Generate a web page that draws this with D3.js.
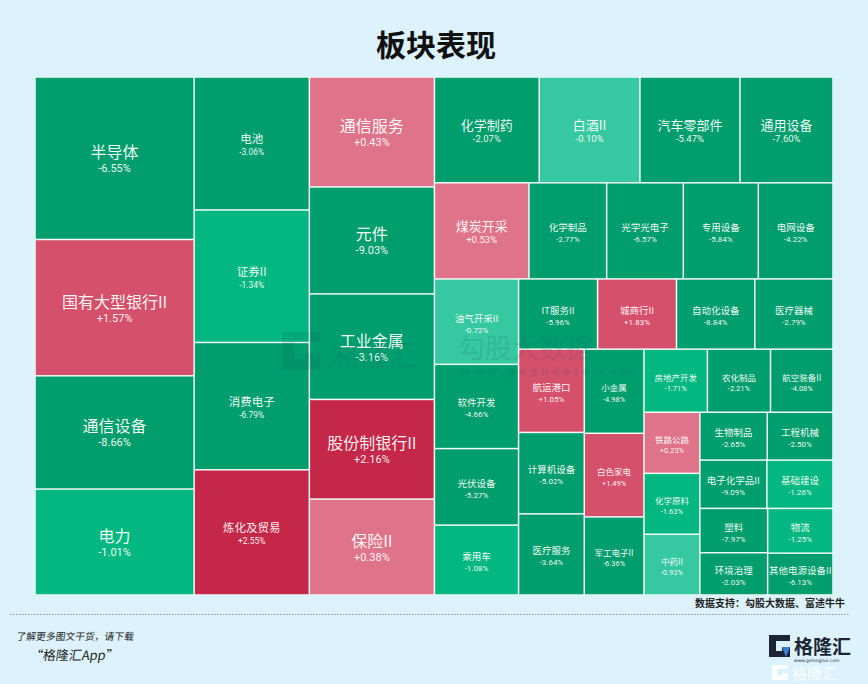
<!DOCTYPE html>
<html>
<head>
<meta charset="utf-8">
<script src="https://cdn.jsdelivr.net/npm/d3@7"></script>
<style>
  body { margin: 0; background: #dcf2fc; }
  svg { display: block; }
</style>
</head>
<body>
<div id="container"></div>
<script>
// sectors in layout order, daily change (%) and weight (block size)
const sectors = [
  '半导体', '国有大型银行II', '通信设备', '电力',
  '电池', '证券II', '消费电子', '炼化及贸易',
  '通信服务', '元件', '工业金属', '股份制银行II', '保险II',
  '化学制药', '白酒II', '汽车零部件', '通用设备',
  '煤炭开采', '化学制品', '光学光电子', '专用设备', '电网设备',
  '油气开采II', '软件开发', '光伏设备', '乘用车',
  'IT服务II', '城商行II', '自动化设备', '医疗器械',
  '航运港口', '计算机设备', '医疗服务',
  '小金属', '白色家电', '军工电子II',
  '房地产开发', '农化制品', '航空装备II',
  '铁路公路', '化学原料', '中药II',
  '生物制品', '工程机械', '电子化学品II', '基础建设',
  '塑料', '环境治理', '物流', '其他电源设备II'
];
const changes = [
  -6.55, 1.57, -8.66, -1.01,
  -3.06, -1.34, -6.79, 2.55,
  0.43, -9.03, -3.16, 2.16, 0.38,
  -2.07, -0.10, -5.47, -7.60,
  0.53, -2.77, -6.57, -5.84, -4.22,
  -0.72, -4.66, -5.27, -1.08,
  -5.96, 1.83, -8.84, -2.79,
  1.05, -5.02, -3.64,
  -4.98, 1.49, -6.36,
  -1.71, -2.21, -4.08,
  0.23, -1.63, -0.93,
  -2.65, -2.50, -9.09, -1.26,
  -7.97, -2.03, -1.25, -6.13
];
const weights = [
  25900, 21730, 18050, 16890,
  15340, 15290, 14690, 14450,
  13770, 13400, 13220, 12480, 12020,
  11110, 10670, 10600, 9860,
  9100, 7480, 7380, 7220, 7190,
  7200, 7100, 6450, 5890,
  5560, 5550, 5510, 5500,
  5480, 5360, 5340,
  5030, 5000, 4670,
  4010, 3990, 3950,
  3420, 3410, 3400,
  3230, 3150, 3240, 3200,
  3010, 2870, 2930, 2740
];
const colorSteps = [-2, -1, 0, 1, 2];
const colorRange = ['#019e6d', '#02b880', '#36c8a0', '#df7389', '#d5506b', '#c42748'];

const w = 868;
const h = 684;
const gap = 1.5;
const box = { x: 35, y: 77, w: 798, h: 518 };

const svg = d3.select('#container')
  .append('svg')
  .attr('width', w)
  .attr('height', h);

svg.append('rect')
  .attr('width', w)
  .attr('height', h)
  .attr('fill', '#dcf2fc');

svg.append('text')
  .attr('x', 436)
  .attr('y', 56)
  .attr('text-anchor', 'middle')
  .attr('font-family', "'Noto Sans CJK SC', sans-serif")
  .attr('font-weight', 700)
  .attr('font-size', 30)
  .attr('fill', '#111')
  .text('板块表现');

const color = d3.scaleThreshold().domain(colorSteps).range(colorRange);

const root = d3.hierarchy({
  children: sectors.map((name, i) => ({ name, change: changes[i], weight: weights[i] }))
}).sum(d => d.weight || 0);

// size shrunk by half the gap so the tiled area is exactly box.w x box.h
d3.treemap()
  .size([box.w - gap, box.h - gap])
  .tile(d3.treemapSquarify.ratio(1))
  .paddingInner(gap)(root);

const g = svg.append('g')
  .attr('transform', `translate(${box.x + gap / 2},${box.y + gap / 2})`);

g.append('rect')
  .attr('x', -gap / 2)
  .attr('y', -gap / 2)
  .attr('width', box.w)
  .attr('height', box.h)
  .attr('fill', '#f4fbf8');

const cells = g.selectAll('g.cell')
  .data(root.leaves())
  .enter()
  .append('g')
  .attr('class', 'cell');

cells.append('rect')
  .attr('x', d => d.x0)
  .attr('y', d => d.y0)
  .attr('width', d => d.x1 - d.x0)
  .attr('height', d => d.y1 - d.y0)
  .attr('fill', d => color(d.data.change));

function nameSize(d) {
  const cw = d.x1 - d.x0;
  const ch = d.y1 - d.y0;
  if (cw >= 120) return 16;
  if (cw >= 90) return ch > 115 ? 11.5 : 13;
  if (cw >= 62) return 9.5;
  return 8.5;
}
const pctSizes = { 16: 11, 13: 9.5, 11.5: 8.5, 9.5: 8, 8.5: 7.5 };

cells.append('text')
  .attr('x', d => (d.x0 + d.x1) / 2)
  .attr('y', d => (d.y0 + d.y1) / 2)
  .attr('text-anchor', 'middle')
  .attr('font-family', "'Noto Sans CJK SC', sans-serif")
  .attr('font-size', d => nameSize(d))
  .attr('fill', '#fff')
  .attr('fill-opacity', 0.95)
  .text(d => d.data.name);

cells.append('text')
  .attr('x', d => (d.x0 + d.x1) / 2)
  .attr('y', d => (d.y0 + d.y1) / 2 + pctSizes[nameSize(d)] + 3)
  .attr('text-anchor', 'middle')
  .attr('font-family', 'Roboto, sans-serif')
  .attr('font-size', d => pctSizes[nameSize(d)])
  .attr('fill', '#fff')
  .attr('fill-opacity', 0.95)
  .text(d => (d.data.change > 0 ? '+' : '') + d.data.change.toFixed(2) + '%');

// logo glyph used for watermark and footer
const logoPath = 'M0,0 H21 V6 H7 V16 H13 V12 H21 V22 H0 Z';

const wm = svg.append('g').attr('fill', '#0f4f5f').attr('fill-opacity', 0.14);
wm.append('path')
  .attr('d', logoPath)
  .attr('transform', 'translate(282,332) scale(1.8,1.72)');
wm.append('text')
  .attr('x', 333)
  .attr('y', 366)
  .attr('font-family', "'Noto Sans CJK SC', sans-serif")
  .attr('font-size', 28)
  .text('格隆汇');
wm.append('text')
  .attr('x', 458)
  .attr('y', 358)
  .attr('font-family', "'Noto Sans CJK SC', sans-serif")
  .attr('font-size', 27)
  .text('勾股大数据');
wm.append('text')
  .attr('x', 461)
  .attr('y', 375)
  .attr('font-family', 'DejaVu Sans, sans-serif')
  .attr('font-weight', 700)
  .attr('font-size', 11)
  .attr('letter-spacing', 3.2)
  .text('www.gogudata.com');

// footer
svg.append('text')
  .attr('x', 845)
  .attr('y', 607)
  .attr('text-anchor', 'end')
  .attr('font-family', "'Noto Sans CJK SC', sans-serif")
  .attr('font-weight', 700)
  .attr('font-size', 10)
  .attr('fill', '#222')
  .text('数据支持：勾股大数据、富途牛牛');

svg.append('line')
  .attr('x1', 10)
  .attr('x2', 849)
  .attr('y1', 614.5)
  .attr('y2', 614.5)
  .attr('stroke', '#777')
  .attr('stroke-width', 0.8)
  .attr('stroke-dasharray', '1.5,1.5');

svg.append('text')
  .attr('x', 17)
  .attr('y', 640)
  .attr('font-family', "'Noto Sans CJK SC', sans-serif")
  .attr('font-size', 9.8)
  .attr('fill', '#222')
  .attr('transform', 'skewX(-8) translate(89,0)')
  .text('了解更多图文干货，请下载');

svg.append('text')
  .attr('x', 30)
  .attr('y', 660)
  .attr('font-family', "'Noto Sans CJK SC', sans-serif")
  .attr('font-size', 13)
  .attr('fill', '#222')
  .attr('transform', 'skewX(-8) translate(92,0)')
  .text('“格隆汇App”');

const logo = svg.append('g').attr('transform', 'translate(769,635)');
logo.append('path').attr('d', logoPath).attr('fill', '#1c2535');
logo.append('path').attr('d', 'M13,12 H21 L17,22 Z').attr('fill', '#3d7fd8');
logo.append('text')
  .attr('x', 25)
  .attr('y', 19)
  .attr('font-family', "'Noto Sans CJK SC', sans-serif")
  .attr('font-weight', 700)
  .attr('font-size', 19)
  .attr('fill', '#1c2535')
  .text('格隆汇');
logo.append('text')
  .attr('x', 25)
  .attr('y', 26.5)
  .attr('font-family', 'DejaVu Sans, sans-serif')
  .attr('font-size', 4.5)
  .attr('fill', '#333')
  .text('www.gelonghui.com');

const logo2 = svg.append('g').attr('transform', 'translate(772,665)').attr('fill', '#fff').attr('fill-opacity', 0.9);
logo2.append('path').attr('d', logoPath).attr('transform', 'scale(0.75,0.68)');
logo2.append('text')
  .attr('x', 20)
  .attr('y', 14)
  .attr('font-family', "'Noto Sans CJK SC', sans-serif")
  .attr('font-size', 15)
  .text('格隆汇');
</script>
</body>
</html>
